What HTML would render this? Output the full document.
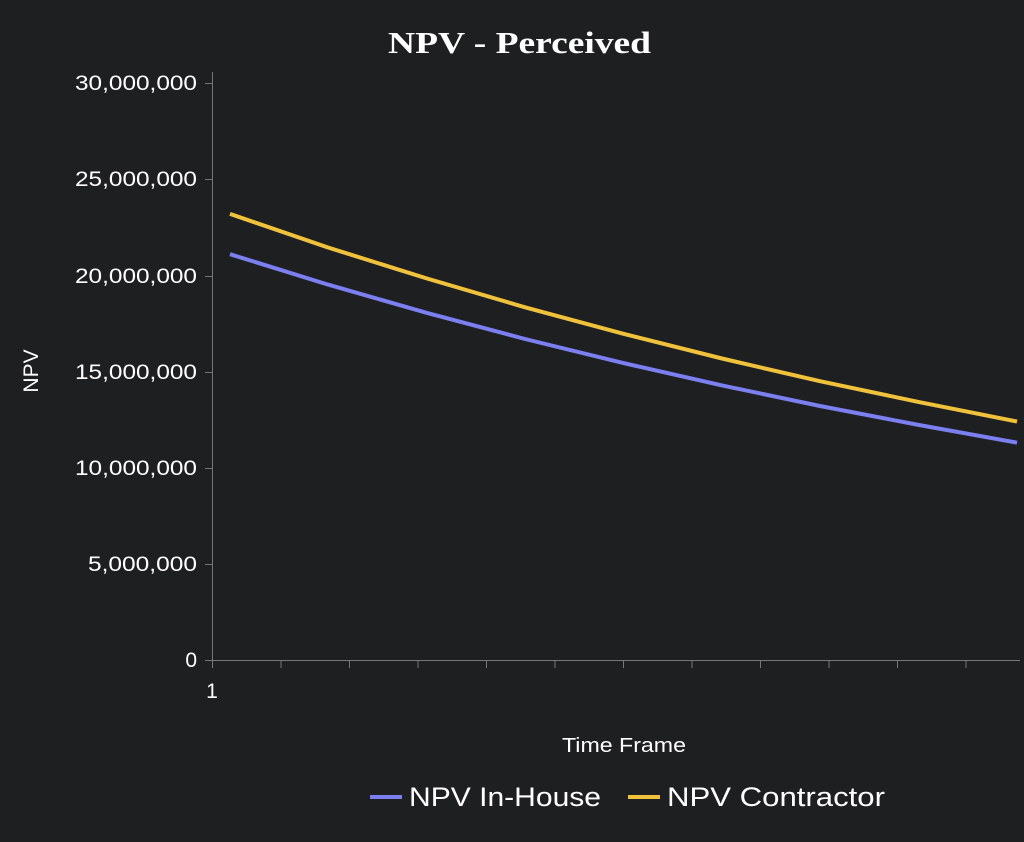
<!DOCTYPE html>
<html><head><meta charset="utf-8"><style>
body{margin:0;background:#1e1f21;}
svg{display:block}
</style></head><body>
<svg width="1024" height="842" viewBox="0 0 1024 842" xmlns="http://www.w3.org/2000/svg">
<rect width="1024" height="842" fill="#1e1f21"/>
<text x="388" y="53" textLength="263" lengthAdjust="spacingAndGlyphs" font-family="Liberation Serif, serif" font-weight="bold" font-size="31" fill="#fff">NPV - Perceived</text>
<g stroke="#777" stroke-width="1">
<line x1="212.5" y1="72" x2="212.5" y2="661"/>
<line x1="212" y1="660.5" x2="1020" y2="660.5"/>
<line x1="205" y1="83.5" x2="212" y2="83.5"/>
<line x1="205" y1="179.5" x2="212" y2="179.5"/>
<line x1="205" y1="276.5" x2="212" y2="276.5"/>
<line x1="205" y1="372.5" x2="212" y2="372.5"/>
<line x1="205" y1="468.5" x2="212" y2="468.5"/>
<line x1="205" y1="564.5" x2="212" y2="564.5"/>
<line x1="205" y1="660.5" x2="212" y2="660.5"/>
<line x1="212.5" y1="660" x2="212.5" y2="668"/>
<line x1="281" y1="660" x2="281" y2="668"/>
<line x1="349.5" y1="660" x2="349.5" y2="668"/>
<line x1="418" y1="660" x2="418" y2="668"/>
<line x1="486.5" y1="660" x2="486.5" y2="668"/>
<line x1="555" y1="660" x2="555" y2="668"/>
<line x1="623.5" y1="660" x2="623.5" y2="668"/>
<line x1="692" y1="660" x2="692" y2="668"/>
<line x1="760.5" y1="660" x2="760.5" y2="668"/>
<line x1="829" y1="660" x2="829" y2="668"/>
<line x1="897.5" y1="660" x2="897.5" y2="668"/>
<line x1="966" y1="660" x2="966" y2="668"/>
</g>
<g font-family="Liberation Sans, sans-serif" font-size="21" fill="#fff">
<text x="75" y="90" textLength="122" lengthAdjust="spacingAndGlyphs">30,000,000</text>
<text x="75" y="186" textLength="122" lengthAdjust="spacingAndGlyphs">25,000,000</text>
<text x="75" y="283" textLength="122" lengthAdjust="spacingAndGlyphs">20,000,000</text>
<text x="75" y="379" textLength="122" lengthAdjust="spacingAndGlyphs">15,000,000</text>
<text x="75" y="475" textLength="122" lengthAdjust="spacingAndGlyphs">10,000,000</text>
<text x="88" y="571" textLength="109" lengthAdjust="spacingAndGlyphs">5,000,000</text>
<text x="197" y="667" text-anchor="end">0</text>
</g>
<text x="212" y="698" text-anchor="middle" font-family="Liberation Sans, sans-serif" font-size="21" fill="#fff">1</text>
<text x="562" y="752" textLength="124" lengthAdjust="spacingAndGlyphs" font-family="Liberation Sans, sans-serif" font-size="20" fill="#fff">Time Frame</text>
<text transform="translate(38,371) rotate(-90)" text-anchor="middle" font-family="Liberation Sans, sans-serif" font-size="21" fill="#fff">NPV</text>
<polyline fill="none" stroke="#7b7ff0" stroke-width="4" stroke-linejoin="round" points="230,254.2 328,284.6 427,312.9 525,339 623.5,363.1 722,385.4 820,406 919,425 1017,442.7"/>
<polyline fill="none" stroke="#f0c23c" stroke-width="4" stroke-linejoin="round" points="230,213.9 328,247.5 427,278.5 525,307.3 623.5,333.8 722,358.5 820,381.2 919,402.1 1017,421.5"/>
<line x1="370" y1="797" x2="402" y2="797" stroke="#7b7ff0" stroke-width="4"/>
<text x="409" y="806" textLength="192" lengthAdjust="spacingAndGlyphs" font-family="Liberation Sans, sans-serif" font-size="27" fill="#fff">NPV In-House</text>
<line x1="628" y1="797" x2="660" y2="797" stroke="#f0c23c" stroke-width="4"/>
<text x="667" y="806" textLength="218" lengthAdjust="spacingAndGlyphs" font-family="Liberation Sans, sans-serif" font-size="27" fill="#fff">NPV Contractor</text>
</svg>
</body></html>
